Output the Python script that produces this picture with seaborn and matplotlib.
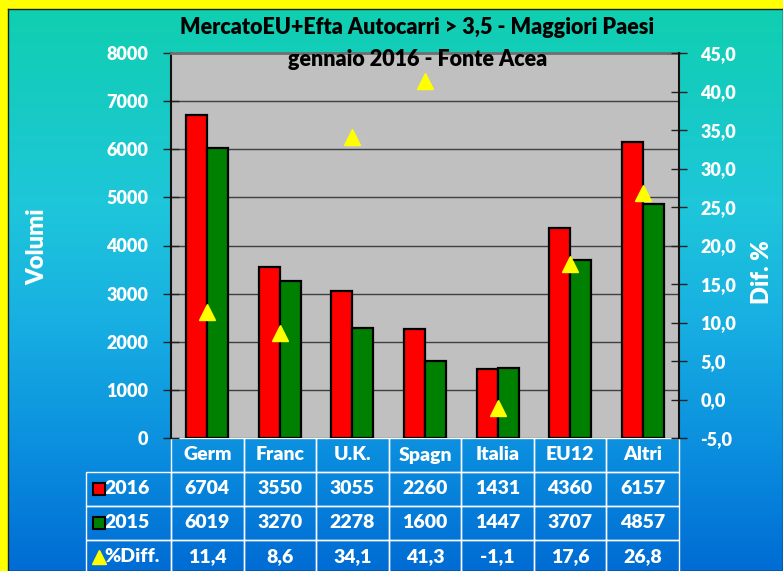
import numpy as np
import pandas as pd
import matplotlib
matplotlib.use("Agg")
import matplotlib.pyplot as plt
import seaborn as sns
from matplotlib.colors import LinearSegmentedColormap

# data
paesi = ['Germ', 'Franc', 'U.K.', 'Spagn', 'Italia', 'EU12', 'Altri']
vol_2016 = [6704, 3550, 3055, 2260, 1431, 4360, 6157]
vol_2015 = [6019, 3270, 2278, 1600, 1447, 3707, 4857]
diff_pct = [11.4, 8.6, 34.1, 41.3, -1.1, 17.6, 26.8]
anni = ['2016', '2015']

sns.set_style("white")
plt.rcParams['font.family'] = ['Lato', 'DejaVu Sans']
plt.rcParams['font.weight'] = 'heavy'
FW = 'heavy'

df = pd.DataFrame({
    'paese': paesi * 2,
    'anno': [anni[0]] * len(paesi) + [anni[1]] * len(paesi),
    'volumi': vol_2016 + vol_2015,
})

W, H = 783, 571
fig = plt.figure(figsize=(W / 100, H / 100), dpi=100)
fig.patch.set_facecolor('yellow')

# gradient background
bg = fig.add_axes([8 / W, 0, 1 - 8 / W, 1 - 9 / H])
cmap = LinearSegmentedColormap.from_list('bg', [
    (0.0, '#10CFB0'), (0.35, '#1EC6DA'), (0.55, '#18B0E2'),
    (0.8, '#0A8CDE'), (1.0, '#006CD4')])
bg.imshow(np.linspace(0, 1, 256).reshape(-1, 1), aspect='auto', cmap=cmap,
          extent=[0, 1, 0, 1])
bg.set_xticks([])
bg.set_yticks([])
for s in bg.spines.values():
    s.set_color('#202020')
    s.set_linewidth(1)
bg.set_zorder(0)

# main plot area
ax = fig.add_axes([171 / W, 1 - 438 / H, 508 / W, 385 / H])
ax.set_zorder(2)
ax.set_facecolor('#C0C0C0')
sns.barplot(data=df, x='paese', y='volumi', hue='anno', palette=['#FF0000', '#008000'],
            edgecolor='black', linewidth=1.6, width=0.58, ax=ax, legend=False,
            saturation=1)
ax.set_ylim(0, 8000)
ax.set_xlim(-0.5, len(paesi) - 0.5)
ax.set_yticks(range(0, 8001, 1000))
ax.yaxis.grid(True, color='#404040', linewidth=1)
ax.set_axisbelow(True)
ax.set_xlabel('')
ax.set_ylabel('')
ax.set_xticklabels([])
ax.tick_params(axis='x', length=0)
ax.tick_params(axis='y', direction='inout', length=11, width=1, color='#202020',
               labelcolor='white', labelsize=13, pad=11)
for lab in ax.get_yticklabels():
    lab.set_fontweight(FW)
ax.spines['left'].set_color('#101010')
ax.spines['left'].set_linewidth(1.5)
ax.spines['top'].set_color('#707070')
ax.spines['top'].set_linewidth(2)
ax.spines['bottom'].set_visible(False)
ax.spines['right'].set_visible(False)

ax2 = ax.twinx()
ax2.plot(range(len(paesi)), diff_pct, linestyle='none', marker='^', markersize=12,
         color='yellow', markeredgecolor='yellow')
ax2.set_ylim(-5, 45)
ticks2 = np.arange(-5, 46, 5)
ax2.set_yticks(ticks2)
ax2.set_yticklabels([f"{t:.1f}".replace('.', ',') for t in ticks2])
ax2.tick_params(axis='y', direction='inout', length=11, width=1, color='#202020',
                labelcolor='white', labelsize=13, pad=10)
for lab in ax2.get_yticklabels():
    lab.set_fontweight(FW)
for side in ['left', 'top', 'bottom']:
    ax2.spines[side].set_visible(False)
ax2.spines['right'].set_color('#101010')
ax2.spines['right'].set_linewidth(1.5)

# titles and axis labels
fig.text(417 / W, 1 - 28 / H, 'MercatoEU+Efta Autocarri > 3,5 - Maggiori Paesi',
         ha='center', va='center', fontsize=15.5, fontweight=FW, color='black')
fig.text(418 / W, 1 - 59 / H, 'gennaio 2016 - Fonte Acea',
         ha='center', va='center', fontsize=15.5, fontweight=FW, color='black',
         zorder=10)
fig.text(37 / W, 1 - 247 / H, 'Volumi', rotation=90, ha='center', va='center',
         fontsize=17, fontweight=FW, color='white')
fig.text(762 / W, 1 - 272 / H, 'Dif. %', rotation=90, ha='center', va='center',
         fontsize=17, fontweight=FW, color='white')

# data table (first column = row labels, first row = categories)
row_h = 34 / 385
lab_w = 85 / 508
row_labels = ['2016', '2015', '%Diff.']
cell_text = [[''] + paesi,
             [row_labels[0]] + [str(v) for v in vol_2016],
             [row_labels[1]] + [str(v) for v in vol_2015],
             [row_labels[2]] + [f"{v:.1f}".replace('.', ',') for v in diff_pct]]
tab = ax.table(cellText=cell_text, colWidths=[lab_w] + [1 / 7] * 7, cellLoc='center',
               bbox=[-lab_w, -4 * row_h, 1 + lab_w, 4 * row_h])
tab.auto_set_font_size(False)
tab.set_fontsize(14)
for (r, c), cell in tab.get_celld().items():
    cell.set_edgecolor('white')
    cell.set_facecolor('none')
    cell.set_linewidth(1)
    cell.get_text().set_color('white')
    cell.get_text().set_fontweight(FW)
    if r == 0 and c == 0:
        cell.visible_edges = ''
    elif c == 0:
        cell.get_text().set_horizontalalignment('left')
        cell.PAD = 0.22

mk_x = -72 / 508
ax.plot([mk_x], [-1.5 * row_h], marker='s', markersize=9, color='#FF0000',
        markeredgecolor='black', markeredgewidth=1.5, transform=ax.transAxes,
        clip_on=False)
ax.plot([mk_x], [-2.5 * row_h], marker='s', markersize=9, color='#008000',
        markeredgecolor='black', markeredgewidth=1.5, transform=ax.transAxes,
        clip_on=False)
ax.plot([mk_x], [-3.5 * row_h], marker='^', markersize=10, color='yellow',
        markeredgecolor='yellow', transform=ax.transAxes, clip_on=False)

fig.savefig('out.png', dpi=100, facecolor=fig.get_facecolor())
